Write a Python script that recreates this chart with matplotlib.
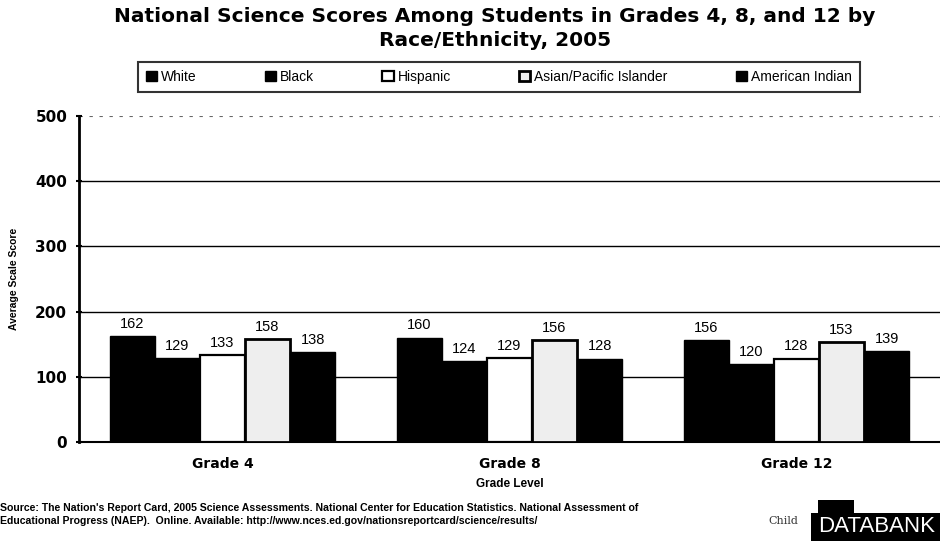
import numpy as np
import matplotlib
matplotlib.use("Agg")
import matplotlib.pyplot as plt
from matplotlib.patches import Rectangle

# data
grades = ["Grade 4", "Grade 8", "Grade 12"]
groups = ["White", "Black", "Hispanic", "Asian/Pacific Islander", "American Indian"]
white = [162, 160, 156]
black = [129, 124, 120]
hispanic = [133, 129, 128]
asian = [158, 156, 153]
american_indian = [138, 128, 139]
yticks = [0, 100, 200, 300, 400, 500]

series = [white, black, hispanic, asian, american_indian]
fills = ["#000000", "#000000", "#ffffff", "#eeeeee", "#000000"]
edge_w = [1.0, 1.0, 1.6, 2.0, 1.0]

plt.rcParams['font.family'] = ['Liberation Sans', 'DejaVu Sans']

fig = plt.figure(figsize=(9.4, 5.41), dpi=100)
W, H = 940, 541

def box(x0, y0, x1, y1):
    # pixel box (top-left origin) -> figure fraction
    return [x0 / W, 1 - y1 / H, (x1 - x0) / W, (y1 - y0) / H]

ax = fig.add_axes(box(79, 116, 940, 442))

x = np.arange(len(grades))
bw = 0.157
for i, vals in enumerate(series):
    pos = x + (i - 2) * bw
    bars = ax.bar(pos, vals, bw, color=fills[i], edgecolor="black",
                  linewidth=edge_w[i], label=groups[i], zorder=3)
    for b, v in zip(bars, vals):
        ax.text(b.get_x() + b.get_width() / 2, v + 8, str(v),
                ha="center", va="bottom", fontsize=10.5, zorder=4)

ax.set_xlim(-0.5, 2.5)
ax.set_ylim(0, 500)
ax.set_yticks(yticks)
ax.set_yticklabels([str(t) for t in yticks], fontsize=11, fontweight="bold",
                   family="DejaVu Sans")
ax.set_xticks(x)
ax.set_xticklabels(grades, fontsize=10, fontweight="bold", family="DejaVu Sans")
ax.tick_params(axis="x", length=0, pad=11)
ax.tick_params(axis="y", length=5, width=1.5, direction="inout", pad=6)
for t in yticks[1:-1]:
    ax.axhline(t, color="black", linewidth=1.0, zorder=1)
ax.axhline(500, color="#666666", linewidth=0.8, linestyle=(0, (3, 6)), zorder=1)
for s in ["top", "right"]:
    ax.spines[s].set_visible(False)
ax.spines["left"].set_linewidth(2.0)
ax.spines["bottom"].set_linewidth(1.5)
ax.set_xlabel("Grade Level", fontsize=8.5, fontweight="bold", labelpad=5)
ax.set_ylabel("Average Scale Score", fontsize=7.5, fontweight="bold", labelpad=12)

fig.text(495 / W, 1 - 17 / H, "National Science Scores Among Students in Grades 4, 8, and 12 by",
         ha="center", va="center", fontsize=14.5, fontweight="heavy", family="DejaVu Sans")
fig.text(495 / W, 1 - 41 / H, "Race/Ethnicity, 2005",
         ha="center", va="center", fontsize=14.5, fontweight="heavy", family="DejaVu Sans")

leg = fig.legend(loc="center", bbox_to_anchor=((140 + 858) / 2 / W, 1 - 77 / H),
                 ncol=5, fontsize=10, frameon=True, fancybox=False,
                 edgecolor="black", handlelength=0.8, handleheight=0.8,
                 handletextpad=0.3, columnspacing=4.9, borderpad=0.6)
leg.get_frame().set_linewidth(1.5)

fig.text(0.0, 1 - 508 / H,
         "Source: The Nation's Report Card, 2005 Science Assessments. National Center for Education Statistics. National Assessment of",
         ha="left", va="center", fontsize=7.6, fontweight="bold")
fig.text(0.0, 1 - 521 / H,
         "Educational Progress (NAEP).  Online. Available: http://www.nces.ed.gov/nationsreportcard/science/results/",
         ha="left", va="center", fontsize=7.6, fontweight="bold")

# Child Trends DataBank logo
fig.text(768 / W, 1 - 521 / H, "Child", ha="left", va="center", fontsize=8,
         family="DejaVu Serif", color="#333333")
fig.patches.append(Rectangle((811 / W, 0), 129 / W, 28 / H, transform=fig.transFigure,
                             facecolor="black", edgecolor="none", zorder=5))
fig.patches.append(Rectangle((818 / W, 28 / H), 36 / W, 13 / H, transform=fig.transFigure,
                             facecolor="black", edgecolor="none", zorder=5))
fig.text(877 / W, 1 - 527 / H, "DATABANK", ha="center", va="center", fontsize=16,
         color="white", zorder=6)

fig.savefig("out.png", dpi=100)
